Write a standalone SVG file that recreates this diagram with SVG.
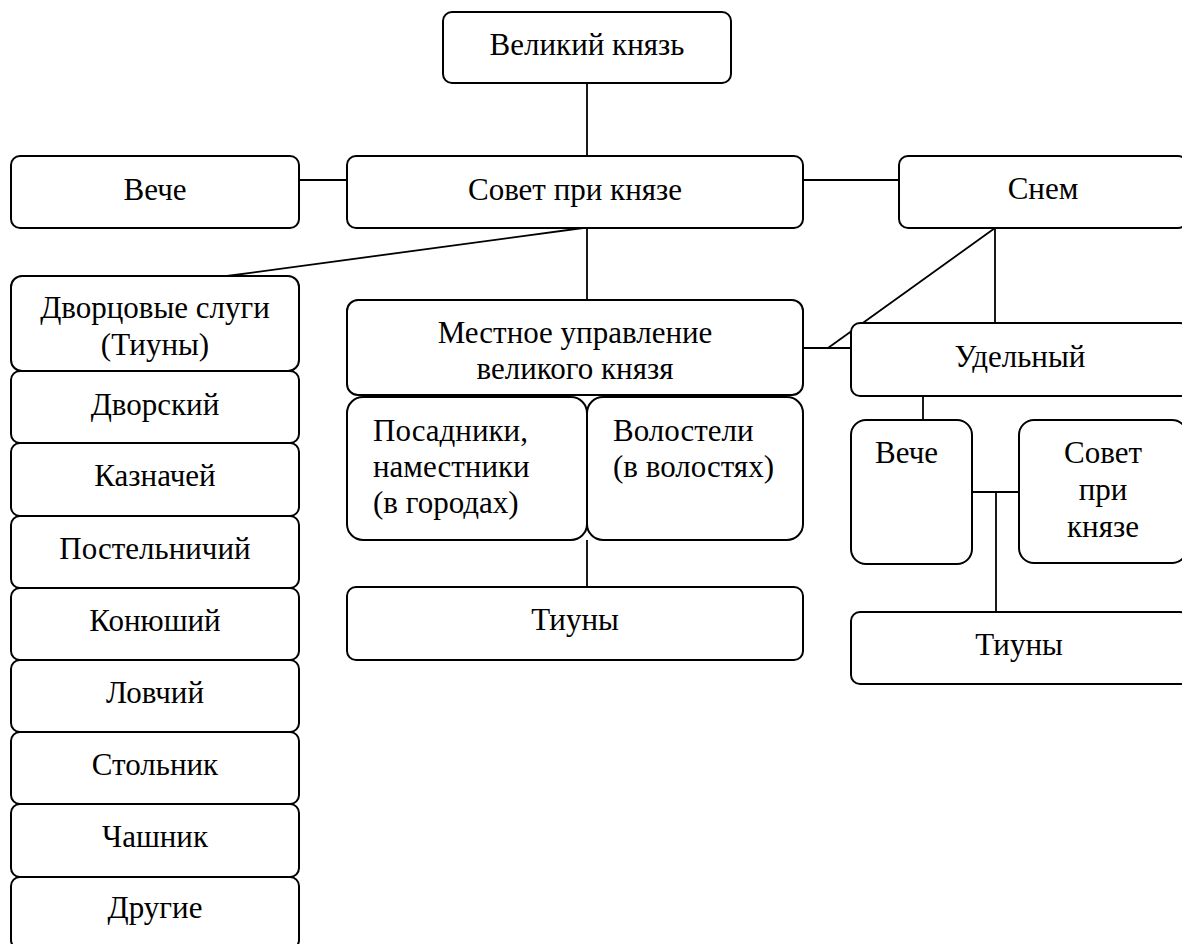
<svg xmlns="http://www.w3.org/2000/svg" width="1182" height="944" viewBox="0 0 1182 944">
<style>
.b{fill:#fff;stroke:#000;stroke-width:2}
.t{font-size:31px;fill:#000}
.c{text-anchor:middle}
.l{stroke:#000;stroke-width:1.8;fill:none}
</style>
<rect width="1182" height="944" fill="#fff"/>
<g id="connectors">
<line class="l" x1="587" y1="83" x2="587" y2="156"/>
<line class="l" x1="299" y1="180" x2="347" y2="180"/>
<line class="l" x1="803" y1="180" x2="899" y2="180"/>
<line class="l" x1="583" y1="228" x2="227" y2="276"/>
<line class="l" x1="587" y1="228" x2="587" y2="300"/>
<line class="l" x1="803" y1="348" x2="851" y2="348"/>
<line class="l" x1="828" y1="348" x2="995" y2="228"/>
<line class="l" x1="995" y1="228" x2="995" y2="323"/>
<line class="l" x1="587" y1="540" x2="587" y2="587"/>
<line class="l" x1="923" y1="396" x2="923" y2="420"/>
<line class="l" x1="972" y1="492" x2="1019" y2="492"/>
<line class="l" x1="996" y1="492" x2="996" y2="612"/>
</g>
<g font-family="Liberation Serif, Times New Roman, DejaVu Serif, serif">
<g id="velikiy-knyaz"><rect class="b" x="443" y="12" width="288" height="71" rx="9"/><text class="t c" x="587" y="55">Великий князь</text></g>
<g id="veche"><rect class="b" x="11" y="156" width="288" height="72" rx="9"/><text class="t c" x="155" y="200">Вече</text></g>
<g id="sovet"><rect class="b" x="347" y="156" width="456" height="72" rx="9"/><text class="t c" x="575" y="200">Совет при князе</text></g>
<g id="snem"><rect class="b" x="899" y="156" width="288" height="72" rx="9"/><text class="t c" x="1043" y="199">Снем</text></g>
<g id="dvortsovye"><rect class="b" x="11" y="276" width="288" height="95" rx="11"/><text class="t c" x="155" y="318">Дворцовые слуги</text><text class="t c" x="155" y="355">(Тиуны)</text></g>
<g id="dvorskiy"><rect class="b" x="11" y="371" width="288" height="72" rx="9"/><text class="t c" x="155" y="415">Дворский</text></g>
<g id="kaznachey"><rect class="b" x="11" y="443" width="288" height="73" rx="9"/><text class="t c" x="155" y="486">Казначей</text></g>
<g id="postelnichiy"><rect class="b" x="11" y="516" width="288" height="72" rx="9"/><text class="t c" x="155" y="559">Постельничий</text></g>
<g id="konyushiy"><rect class="b" x="11" y="588" width="288" height="72" rx="9"/><text class="t c" x="155" y="631">Конюший</text></g>
<g id="lovchiy"><rect class="b" x="11" y="660" width="288" height="72" rx="9"/><text class="t c" x="155" y="703">Ловчий</text></g>
<g id="stolnik"><rect class="b" x="11" y="732" width="288" height="72" rx="9"/><text class="t c" x="155" y="775">Стольник</text></g>
<g id="chashnik"><rect class="b" x="11" y="804" width="288" height="73" rx="9"/><text class="t c" x="155" y="847">Чашник</text></g>
<g id="drugie"><rect class="b" x="11" y="877" width="288" height="72" rx="9"/><text class="t c" x="155" y="918">Другие</text></g>
<g id="mestnoe"><rect class="b" x="347" y="300" width="456" height="95" rx="11"/><text class="t c" x="575" y="343">Местное управление</text><text class="t c" x="575" y="379">великого князя</text></g>
<g id="posadniki"><rect class="b" x="347" y="397" width="240" height="143" rx="16"/><text class="t" x="373" y="441">Посадники,</text><text class="t" x="373" y="477">наместники</text><text class="t" x="373" y="513">(в городах)</text></g>
<g id="volosteli"><rect class="b" x="587" y="397" width="216" height="143" rx="16"/><text class="t" x="613" y="441">Волостели</text><text class="t" x="613" y="477">(в волостях)</text></g>
<g id="tiuny-mestnye"><rect class="b" x="347" y="587" width="456" height="73" rx="9"/><text class="t c" x="575" y="630">Тиуны</text></g>
<g id="udelnyy"><rect class="b" x="851" y="323" width="338" height="73" rx="9"/><text class="t c" x="1020" y="367">Удельный</text></g>
<g id="veche-udel"><rect class="b" x="851" y="420" width="121" height="144" rx="15"/><text class="t" x="875" y="463">Вече</text></g>
<g id="sovet-udel"><rect class="b" x="1019" y="420" width="168" height="143" rx="15"/><text class="t c" x="1103" y="463">Совет</text><text class="t c" x="1103" y="500">при</text><text class="t c" x="1103" y="537">князе</text></g>
<g id="tiuny-udel"><rect class="b" x="851" y="612" width="338" height="72" rx="9"/><text class="t c" x="1019" y="655">Тиуны</text></g>
</g>
</svg>
